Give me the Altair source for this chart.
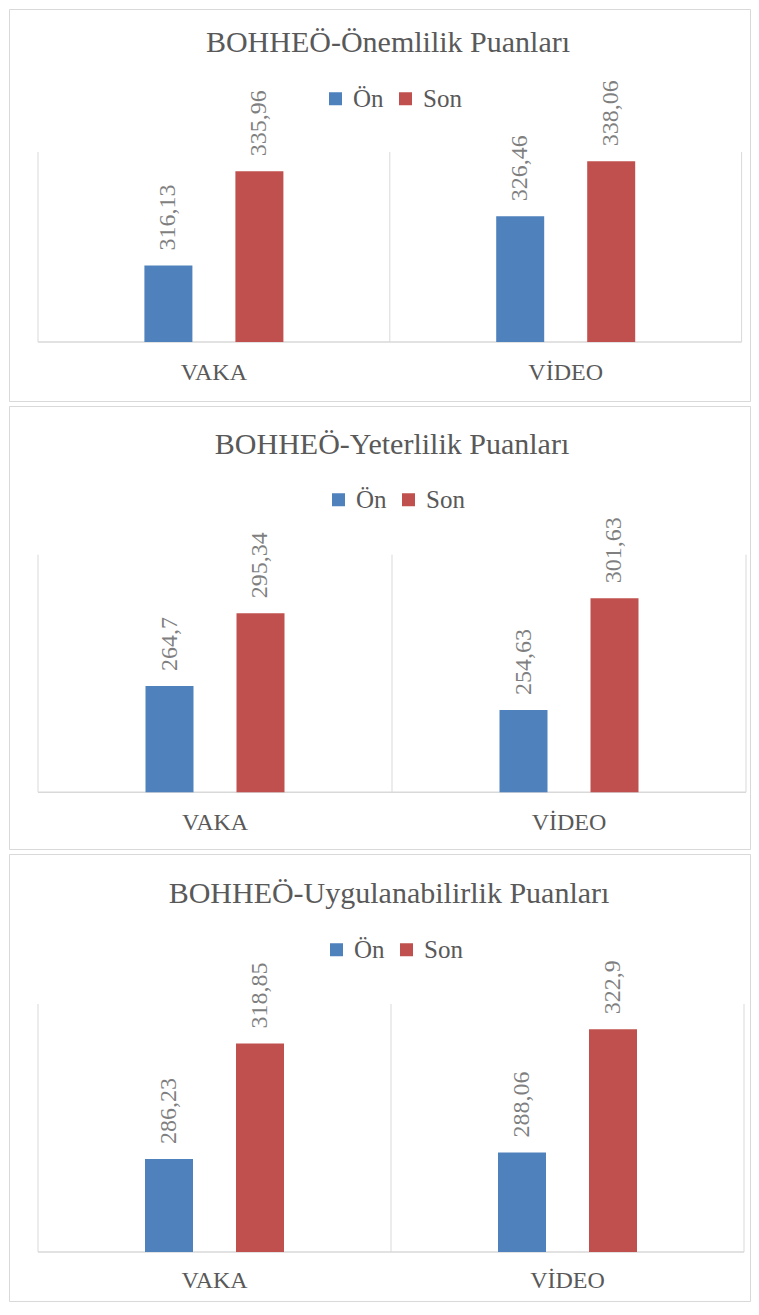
import altair as alt
import pandas as pd

categories = ["VAKA", "VİDEO"]
series = ["Ön", "Son"]
titles = ["BOHHEÖ-Önemlilik Puanları",
          "BOHHEÖ-Yeterlilik Puanları",
          "BOHHEÖ-Uygulanabilirlik Puanları"]
onem_on = [316.13, 326.46]
onem_son = [335.96, 338.06]
yeter_on = [264.7, 254.63]
yeter_son = [295.34, 301.63]
uyg_on = [286.23, 288.06]
uyg_son = [318.85, 322.9]
axis_min = [300, 220, 260]
axis_max = [340, 320, 330]
colors = ["#4F81BD", "#C0504D"]

SERIF = "Liberation Serif, Times New Roman, serif"
GRID = "#D9D9D9"
TXT = "#595959"
LBL = "#7F7F7F"
W = 741


def panel(title, on, son, dmin, dmax, H, title_x, title_y, leg_x, leg_y,
          top, base, lab_y, left, right):
    rows = []
    for c, a, b in zip(categories, on, son):
        rows.append({"cat": c, "ser": series[0], "val": a,
                     "lab": f"{a:g}".replace(".", ",")})
        rows.append({"cat": c, "ser": series[1], "val": b,
                     "lab": f"{b:g}".replace(".", ",")})
    df = pd.DataFrame(rows)
    cat_df = pd.DataFrame({"cat": categories})
    last_df = pd.DataFrame({"cat": categories[-1:]})

    band = (right - left) / 2.0
    xscale = alt.Scale(type="band", domain=categories,
                       range=[left - 8, right - 8],
                       paddingInner=0, paddingOuter=0)
    xoff = alt.Scale(domain=series, range=[band / 2 - 69.5, band / 2 + 69.5],
                     paddingInner=0.4725, paddingOuter=0)
    yscale = alt.Scale(domain=[dmin, dmax], range=[base, top],
                       zero=False, nice=False)

    t = alt.Chart(pd.DataFrame({"t": [title]})).mark_text(
        font=SERIF, fontSize=30, color=TXT, align="center",
        baseline="alphabetic").encode(
        x=alt.value(title_x), y=alt.value(title_y), text="t:N")

    vlines = alt.Chart(cat_df).mark_rule(color=GRID, strokeWidth=1).encode(
        x=alt.X("cat:N", scale=xscale, axis=None, bandPosition=0),
        y=alt.value(top), y2=alt.value(base))
    vlast = alt.Chart(last_df).mark_rule(color=GRID, strokeWidth=1).encode(
        x=alt.X("cat:N", scale=xscale, axis=None, bandPosition=1),
        y=alt.value(top), y2=alt.value(base))

    baseline = alt.Chart(pd.DataFrame({"a": [0]})).mark_rule(
        color=GRID, strokeWidth=1.5).encode(
        x=alt.value(left - 8), x2=alt.value(right - 8), y=alt.value(base))

    bars = alt.Chart(df).mark_bar().encode(
        x=alt.X("cat:N", scale=xscale, axis=None, sort=categories),
        xOffset=alt.XOffset("ser:N", scale=xoff, sort=series),
        y=alt.Y("val:Q", scale=yscale, axis=None),
        y2=alt.datum(dmin),
        color=alt.Color("ser:N", sort=series,
                        scale=alt.Scale(domain=series, range=colors),
                        legend=alt.Legend(
                            orient="none", legendX=leg_x, legendY=leg_y,
                            direction="horizontal", title=None,
                            symbolType="square", symbolSize=169,
                            symbolStrokeWidth=0, labelFont=SERIF,
                            labelFontSize=25, labelColor=TXT,
                            labelOffset=5, columnPadding=9, padding=0)))

    labels = alt.Chart(df).mark_text(
        font=SERIF, fontSize=24, color=LBL, angle=270, align="left",
        baseline="middle", yOffset=-15).encode(
        x=alt.X("cat:N", scale=xscale, axis=None, sort=categories),
        xOffset=alt.XOffset("ser:N", scale=xoff, sort=series),
        y=alt.Y("val:Q", scale=yscale, axis=None),
        text="lab:N")

    catlab = alt.Chart(cat_df).mark_text(
        font=SERIF, fontSize=24, color=TXT, align="center",
        baseline="alphabetic").encode(
        x=alt.X("cat:N", scale=xscale, axis=None),
        y=alt.value(lab_y), text="cat:N")

    return alt.layer(t, vlines, vlast, baseline, bars, labels, catlab).properties(
        width=W, height=H)


p1 = panel(titles[0], onem_on, onem_son, axis_min[0], axis_max[0], 392,
           379, 43, 314, 77, 143, 333, 371, 37, 740.6)
p2 = panel(titles[1], yeter_on, yeter_son, axis_min[1], axis_max[1], 443,
           383, 47.7, 317, 81, 148.7, 386.3, 423.7, 37, 745)
p3 = panel(titles[2], uyg_on, uyg_son, axis_min[2], axis_max[2], 447,
           380, 49, 315, 83, 150, 398, 434, 37, 743)

chart = alt.vconcat(p1, p2, p3, spacing=3).resolve_scale(
    x="independent", y="independent", color="independent",
    xOffset="independent").resolve_legend(color="independent").properties(
    padding={"left": 0, "top": 0, "right": 0, "bottom": 0},
    background="white").configure_view(stroke=GRID, strokeWidth=1)

chart.save("out.html", embed_options={"renderer": "svg", "actions": False})
